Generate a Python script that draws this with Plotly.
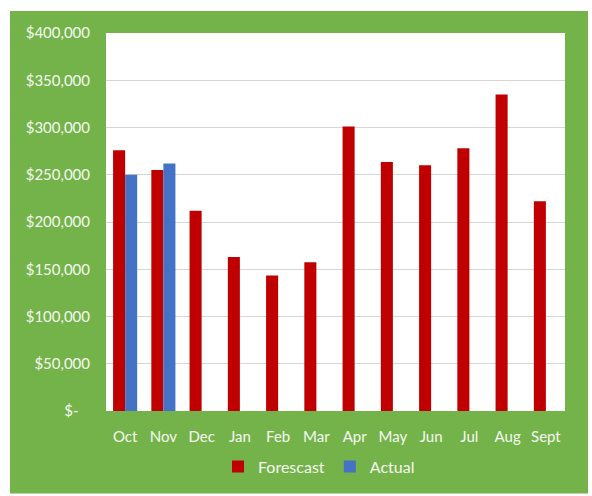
import plotly.graph_objects as go

# Monthly budget figures
months = ["Oct", "Nov", "Dec", "Jan", "Feb", "Mar", "Apr", "May", "Jun", "Jul", "Aug", "Sept"]
forecast = [276000, 255000, 212000, 163000, 143500, 157500, 301000, 263500, 260000, 278000, 335000, 222000]
actual = [250000, 262000, None, None, None, None, None, None, None, None, None, None]

tick_vals = [0, 50000, 100000, 150000, 200000, 250000, 300000, 350000, 400000]
tick_text = ["$-\u00a0\u00a0\u00a0", "$50,000", "$100,000", "$150,000", "$200,000",
             "$250,000", "$300,000", "$350,000", "$400,000"]

RED = "#C00000"
BLUE = "#4472C4"
GREEN = "#74B34A"
LABEL = "#F4F8F0"
FONT = "Lato, Calibri, sans-serif"

W, H = 592, 496
L, R, T, B = 106, 27, 33, 83
pw, ph = W - L - R, H - T - B

fig = go.Figure()
fig.add_trace(go.Bar(name="Forescast", x=months, y=forecast, marker_color=RED,
                     marker_line_width=0))
fig.add_trace(go.Bar(name="Actual", x=months, y=actual, marker_color=BLUE,
                     marker_line_width=0))


def px_x(v):
    return (v - L) / pw


def px_y(v):
    return (H - B - v) / ph


fig.update_layout(
    width=W, height=H,
    margin=dict(l=L, r=R, t=T, b=B),
    paper_bgcolor="white",
    plot_bgcolor="rgba(0,0,0,0)",
    barmode="group",
    bargap=0.37,
    bargroupgap=0,
    font=dict(family=FONT, color=LABEL, size=15),
    showlegend=True,
    legend=dict(orientation="h", x=px_x(319), xanchor="center",
                y=px_y(469), yanchor="middle",
                font=dict(size=16, color=LABEL), bgcolor="rgba(0,0,0,0)",
                itemclick=False),
    shapes=[
        dict(type="rect", xref="paper", yref="paper", layer="below",
             x0=px_x(10), x1=px_x(588), y0=px_y(496), y1=px_y(11),
             fillcolor=GREEN, line=dict(width=0)),
        dict(type="rect", xref="paper", yref="paper", layer="below",
             x0=0, x1=1, y0=0, y1=1,
             fillcolor="white", line=dict(width=0)),
    ],
)

fig.update_xaxes(showgrid=False, showline=False, zeroline=False,
                 ticks="", ticklabelstandoff=15,
                 tickfont=dict(size=15, color=LABEL))
fig.update_yaxes(range=[0, 400000], tickvals=tick_vals, ticktext=tick_text,
                 showgrid=True, gridcolor="#D6D6D6", gridwidth=1,
                 showline=False, zeroline=False, ticks="",
                 ticklabelstandoff=15, tickfont=dict(size=15, color=LABEL))

fig.write_html("out.html")
